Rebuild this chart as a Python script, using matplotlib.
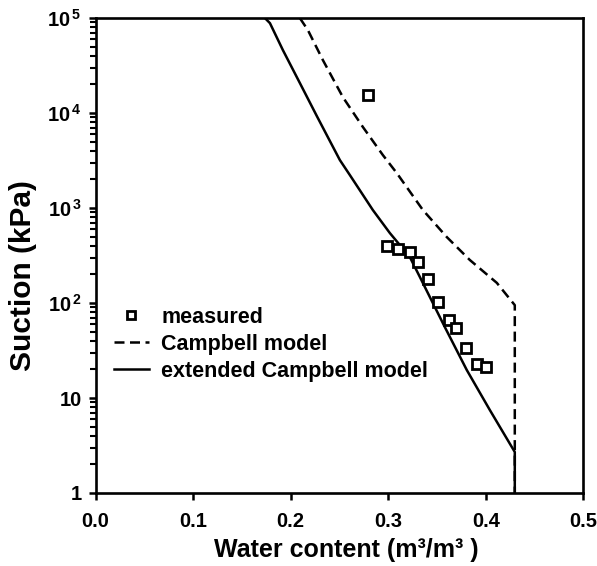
import matplotlib
matplotlib.use("Agg")
import matplotlib.pyplot as plt
from matplotlib.ticker import FixedLocator, LogLocator, NullFormatter

plt.rcParams['font.family'] = ['Liberation Sans', 'DejaVu Sans']
plt.rcParams['font.weight'] = 'bold'
plt.rcParams['mathtext.fontset'] = 'custom'
plt.rcParams['mathtext.rm'] = 'Liberation Sans:bold'
plt.rcParams['mathtext.it'] = 'Liberation Sans:bold'
plt.rcParams['mathtext.bf'] = 'Liberation Sans:bold'
plt.rcParams['mathtext.default'] = 'rm'

# measured data
meas_theta = [0.279, 0.299, 0.310, 0.322, 0.331, 0.341, 0.351, 0.362, 0.370, 0.380, 0.391, 0.400]
meas_psi = [15500, 398, 370, 344, 270, 179, 103, 66, 55, 34, 23, 21]

# Campbell model (dashed)
camp_theta = [0.2095, 0.2177, 0.2331, 0.2536, 0.2741, 0.2946, 0.3089, 0.3356, 0.3601, 0.3837, 0.4114, 0.4298, 0.4298]
camp_psi = [1.0e5, 7.48e4, 3.61e4, 1.47e4, 7130, 3610, 2330, 953, 495, 284, 163, 95, 1.0]

# extended Campbell model (solid)
ext_theta = [0.1737, 0.1788, 0.1921, 0.2095, 0.2269, 0.2403, 0.2505, 0.2608, 0.2843, 0.3017,
             0.3222, 0.3325, 0.3458, 0.3581, 0.3806, 0.4042, 0.4298, 0.4298]
ext_psi = [1.0e5, 8.85e4, 4.6e4, 2.07e4, 9290, 5070, 3200, 2220, 953, 546,
           305, 188, 100, 55.8, 19.7, 7.48, 2.70, 1.0]

xticks = [0.0, 0.1, 0.2, 0.3, 0.4, 0.5]
xticklabels = ['0.0', '0.1', '0.2', '0.3', '0.4', '0.5']
yticks = [1, 10, 100, 1000, 10000, 100000]
yticklabels = ['1', '10', r'$10^{\,2}$', r'$10^{\,3}$', r'$10^{\,4}$', r'$10^{\,5}$']

fig = plt.figure(figsize=(5.97, 5.66), dpi=100)
ax = fig.add_axes([0.160, 0.129, 0.817, 0.839])

ax.plot(meas_theta, meas_psi, linestyle='none', marker='s', markersize=7.5,
        markerfacecolor='white', markeredgecolor='black', markeredgewidth=2.0,
        label='measured', zorder=3)
ax.plot(camp_theta, camp_psi, color='black', linewidth=1.8, linestyle=(0, (4.0, 2.2)),
        label='Campbell model')
ax.plot(ext_theta, ext_psi, color='black', linewidth=1.8, linestyle='-',
        label='extended Campbell model')

ax.set_yscale('log')
ax.set_xlim(0.0, 0.5)
ax.set_ylim(1, 1e5)
ax.set_xticks(xticks)
ax.set_xticklabels(xticklabels)
ax.yaxis.set_major_locator(FixedLocator(yticks))
ax.set_yticklabels(yticklabels)
ax.yaxis.set_minor_locator(LogLocator(base=10, subs=range(2, 10)))
ax.yaxis.set_minor_formatter(NullFormatter())

for s in ax.spines.values():
    s.set_linewidth(1.9)
ax.tick_params(axis='both', which='major', direction='out', width=1.8, length=5,
               labelsize=14.5, top=False, right=False)
ax.tick_params(axis='y', which='minor', direction='out', width=1.5, length=4, right=False)
ax.tick_params(axis='x', which='major', pad=9)
ax.tick_params(axis='y', which='major', pad=5)

ax.set_xlabel('Water content (m³/m³ )', fontsize=18, fontweight='bold')
ax.set_ylabel('Suction (kPa)', fontsize=21.5, fontweight='bold')
ax.xaxis.set_label_coords(0.515, -0.095)
ax.yaxis.set_label_coords(-0.120, 0.457)

leg = ax.legend(loc='upper left', bbox_to_anchor=(0.02, 0.41), frameon=False,
                fontsize=15.5, handlelength=1.63, handletextpad=0.56, labelspacing=0.28,
                borderaxespad=0.0, markerscale=0.8)

fig.savefig('out.png', dpi=100)
